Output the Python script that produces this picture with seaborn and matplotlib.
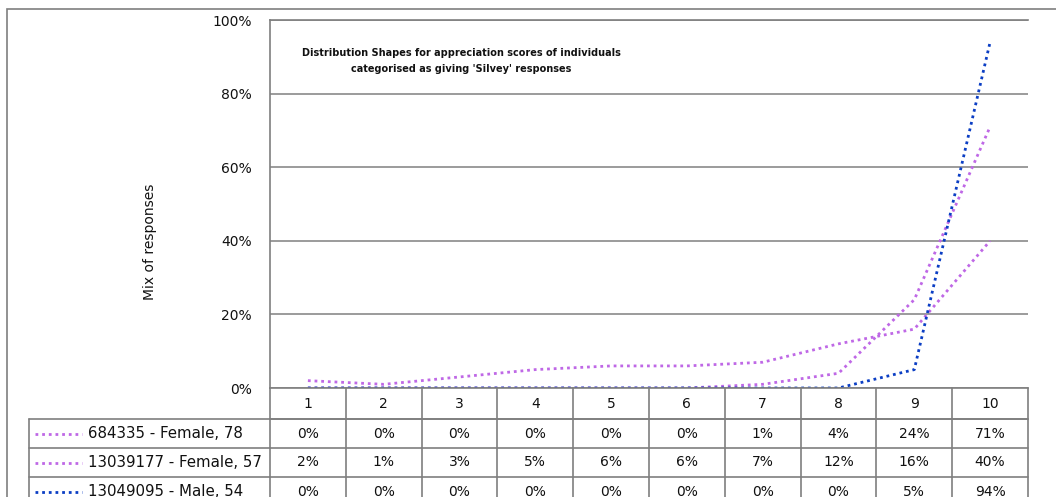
import pandas as pd
import seaborn as sns
import matplotlib.pyplot as plt
import matplotlib.transforms as mtransforms
from matplotlib.lines import Line2D
from matplotlib.patches import Rectangle
from matplotlib.ticker import PercentFormatter

scores = [1, 2, 3, 4, 5, 6, 7, 8, 9, 10]
series_names = ["684335 - Female, 78", "13039177 - Female, 57", "13049095 - Male, 54"]
female_78 = [0, 0, 0, 0, 0, 0, 1, 4, 24, 71]
female_57 = [2, 1, 3, 5, 6, 6, 7, 12, 16, 40]
male_54 = [0, 0, 0, 0, 0, 0, 0, 0, 5, 94]
line_colors = ["#BF68E6", "#BF68E6", "#0B3EC4"]
y_ticks = [0, 20, 40, 60, 80, 100]

values = [female_78, female_57, male_54]
df = pd.DataFrame({
    "score": scores * len(series_names),
    "pct": [v for vals in values for v in vals],
    "series": [n for n in series_names for _ in scores],
})

sns.set_style("white")
plt.rcParams["font.family"] = ["DejaVu Sans"]

W, H = 1056, 497
def fx(x):
    return x / W
def fy(y):
    return 1 - y / H

grey = "#7f7f7f"
dots = (0, (1, 1.4))
txt = "#111111"

fig = plt.figure(figsize=(W / 100, H / 100), dpi=100)
fig.add_artist(Rectangle((fx(7), fy(530)), fx(1070) - fx(7), fy(9) - fy(530),
                         transform=fig.transFigure, fill=False, edgecolor=grey, lw=1.2))

ax = fig.add_axes([fx(270), fy(388), fx(1028) - fx(270), (388 - 20) / H])
sns.lineplot(data=df, x="score", y="pct", hue="series", hue_order=series_names,
             palette=dict(zip(series_names, line_colors)), ax=ax, legend=False,
             linewidth=2.0, linestyle=dots)

ax.set_xlim(0.5, 10.5)
ax.set_ylim(0, 100)
ax.set_yticks(y_ticks)
ax.yaxis.set_major_formatter(PercentFormatter(xmax=100, decimals=0))
ax.set_xticks([])
ax.set_xlabel("")
ax.yaxis.grid(True, color="#8a8a8a", lw=1.2)
ax.set_axisbelow(True)
ax.tick_params(axis="y", length=0, pad=13, labelsize=10, labelcolor=txt)
for side in ["left", "top", "bottom"]:
    ax.spines[side].set_color(grey)
    ax.spines[side].set_linewidth(1.2)
ax.spines["right"].set_visible(False)

ax.set_ylabel("Mix of responses", fontsize=10, color=txt)
ax.yaxis.set_label_coords((157 - 270) / 758, (388 - 242) / 368)

ax.text((461 - 270) / 758, (388 - 61) / 368,
        "Distribution Shapes for appreciation scores of individuals\ncategorised as giving 'Silvey' responses",
        transform=ax.transAxes, ha="center", va="center", multialignment="center",
        fontsize=7, fontweight="bold", linespacing=1.7, color=txt)

# data table under the plot
blend = mtransforms.blended_transform_factory(ax.transData, fig.transFigure)
row_lines = [419, 448, 477, 506]
for i in range(len(scores) + 1):
    fig.add_artist(Line2D([i + 0.5, i + 0.5], [fy(388), fy(520)], transform=blend, color=grey, lw=1.2))
fig.add_artist(Line2D([0.5, 10.5], [fy(419), fy(419)], transform=blend, color=grey, lw=1.2))
for y in row_lines:
    fig.add_artist(Line2D([fx(29), fx(270)], [fy(y), fy(y)], transform=fig.transFigure, color=grey, lw=1.2))
    fig.add_artist(Line2D([0.5, 10.5], [fy(y), fy(y)], transform=blend, color=grey, lw=1.2))
fig.add_artist(Line2D([fx(29), fx(29)], [fy(419), fy(520)], transform=fig.transFigure, color=grey, lw=1.2))

for s in scores:
    fig.text(s, fy(404), str(s), transform=blend, ha="center", va="center", fontsize=10, color=txt)

for r, (name, vals, col) in enumerate(zip(series_names, values, line_colors)):
    yc = fy((row_lines[r] + row_lines[r + 1]) / 2)
    fig.add_artist(Line2D([fx(35), fx(82)], [yc, yc], transform=fig.transFigure,
                          color=col, lw=2.0, linestyle=dots))
    fig.text(fx(88), yc, name, ha="left", va="center", fontsize=10.8, color=txt)
    for s, v in zip(scores, vals):
        fig.text(s, yc, f"{v}%", transform=blend, ha="center", va="center", fontsize=10, color=txt)

fig.savefig("out.png", dpi=100)
